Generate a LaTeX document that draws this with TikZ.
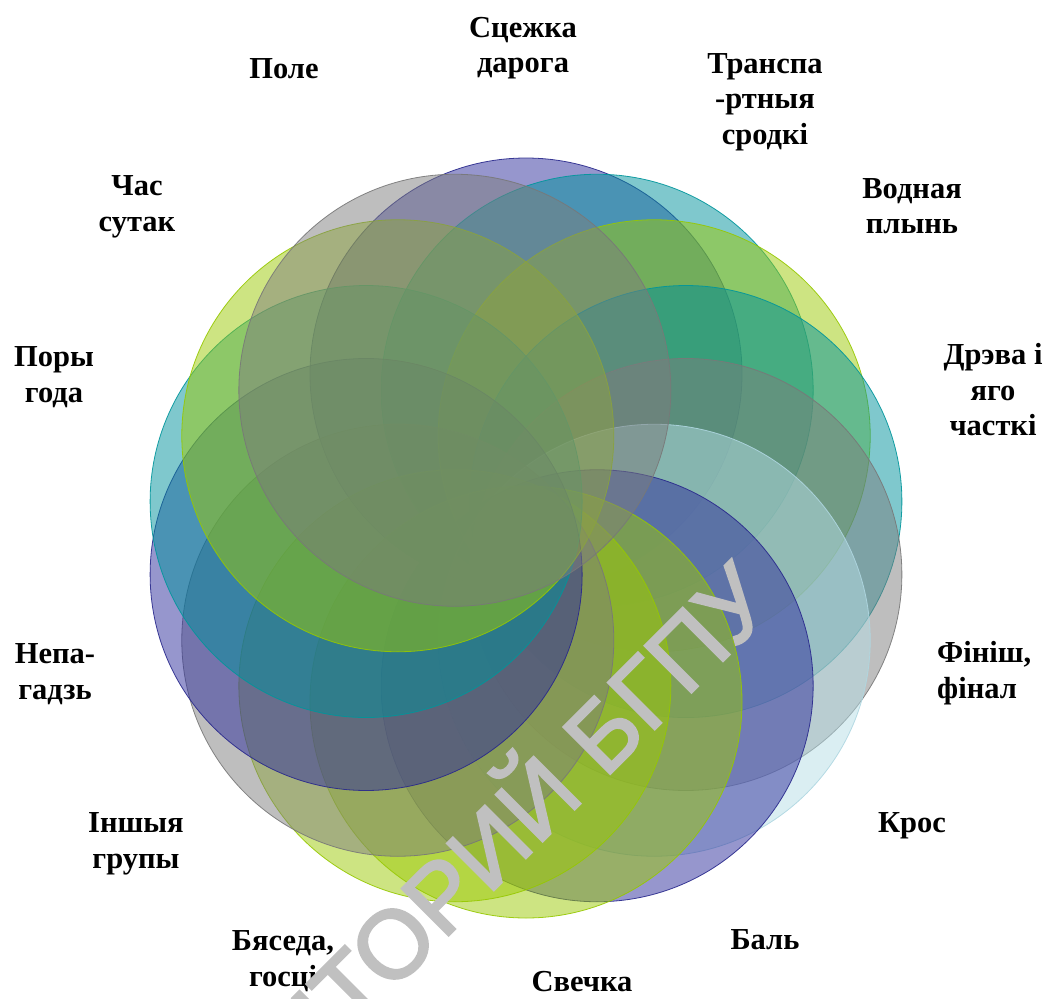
\documentclass[tikz,border=0pt]{standalone}
\usepackage{fontspec}
\setmainfont{Liberation Serif}
\newfontfamily\wmfont[FakeBold=2.5]{Liberation Sans}
\definecolor{cPurF}{RGB}{45,45,155}
\definecolor{cPurD}{RGB}{40,40,140}
\definecolor{cTeaF}{RGB}{0,145,155}
\definecolor{cTeaD}{RGB}{0,150,155}
\definecolor{cLimF}{RGB}{155,201,5}
\definecolor{cLimD}{RGB}{150,200,0}
\definecolor{cGraF}{RGB}{125,125,125}
\definecolor{cGraD}{RGB}{120,120,120}
\definecolor{cCyaF}{RGB}{181,221,229}
\definecolor{cCyaD}{RGB}{175,215,225}
\definecolor{wmgray}{RGB}{192,192,192}
\tikzset{
  ring/.style={circle, minimum size=432pt, inner sep=0pt, line width=0.8pt, fill opacity=0.5, draw opacity=0.9},
  purc/.style={ring, fill=cPurF, draw=cPurD},
  teac/.style={ring, fill=cTeaF, draw=cTeaD},
  limc/.style={ring, fill=cLimF, draw=cLimD},
  grac/.style={ring, fill=cGraF, draw=cGraD},
  cyac/.style={ring, fill=cCyaF, draw=cCyaD},
  lbl/.style={align=center, inner sep=0pt, font=\bfseries\fontsize{30.5}{35.5}\selectfont},
}
\begin{document}
\begin{tikzpicture}[x=1pt,y=-1pt]
\useasboundingbox (0,0) rectangle (1048,998);
\foreach \t/\s [count=\i] in {90/purc, 64.286/teac, 38.571/limc, 12.857/teac, -12.857/grac, -38.571/cyac, -64.286/purc, -90/limc, -115.714/limc, -141.429/grac, -167.143/purc, 167.143/teac, 141.429/limc, 115.714/grac}{
  \node[\s] (c\i) at ({526+164*cos(\t)},{538-164*sin(\t)}) {};
}
\node[lbl] (l1) at (523,48) {Сцежка\\дарога};
\node[lbl] (l2) at (765,102) {Транспа\\-ртныя\\сродкі};
\node[lbl] (l3) at (912,206) {Водная\\плынь};
\node[lbl] (l4) at (993,390) {Дрэва і\\яго\\часткі};
\node[lbl, align=left, anchor=west] (l5) at (937,673) {Фініш,\\фінал};
\node[lbl] (l6) at (912,826) {Крос};
\node[lbl] (l7) at (765,940) {Баль};
\node[lbl] (l8) at (582,982) {Свечка};
\node[lbl] (l9) at (283,961) {Бяседа,\\госці};
\node[lbl] (l10) at (136,844) {Іншыя\\групы};
\node[lbl] (l11) at (55,674) {Непа-\\гадзь};
\node[lbl] (l12) at (54,377) {Поры\\года};
\node[lbl] (l13) at (137,207) {Час\\сутак};
\node[lbl] (l14) at (284,69) {Поле};
\begin{scope}
\clip (0,0) rectangle (1048,998);
\node[rotate=45, anchor=base east, inner sep=0pt, text=wmgray, font=\wmfont\fontsize{96}{96}\selectfont] (wm) at (778,606) {РЕПОЗИТОРИЙ БГПУ};
\end{scope}
\end{tikzpicture}
\end{document}
